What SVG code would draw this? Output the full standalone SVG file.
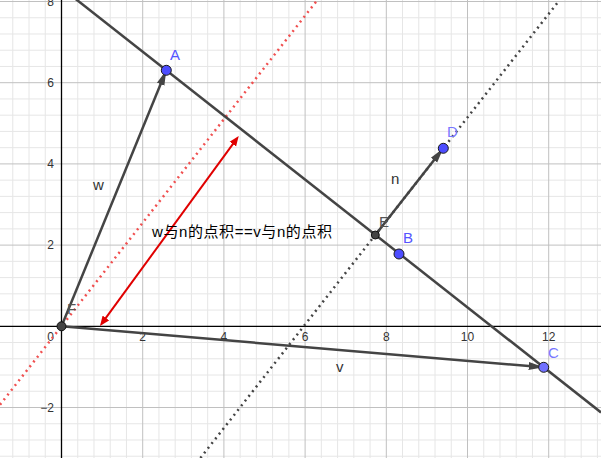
<svg xmlns="http://www.w3.org/2000/svg" width="601" height="458" viewBox="0 0 601 458">
<defs>
<style>
.minor{stroke:#e6e6e6;stroke-width:1;fill:none}
.major{stroke:#c0c0c0;stroke-width:1;fill:none}
.axis{stroke:#000;stroke-width:1.3;fill:none}
.tick{font-family:"Liberation Sans","DejaVu Sans",sans-serif;font-size:12px;fill:#333}
.ytick{text-anchor:end}
.xtick{text-anchor:middle}
.line{stroke:#444;stroke-width:2.5;fill:none}
.vec{stroke:#444;stroke-width:2.5;fill:none;marker-end:url(#ah)}
.dotg{stroke:#444;stroke-width:2.5;fill:none;stroke-dasharray:2 4}
.dotr{stroke:#f05050;stroke-width:2.5;fill:none;stroke-dasharray:2 4}
.red{stroke:#e00000;stroke-width:2;fill:none;marker-start:url(#rh);marker-end:url(#rh)}
.pt{fill:#4d4dff;stroke:#1a1a1a;stroke-width:1}
.ptd{fill:#444;stroke:#111;stroke-width:1}
.plab{font-family:"Liberation Sans","DejaVu Sans",sans-serif;font-size:15px;fill:#5555ff}
.dlab{font-family:"Liberation Sans","DejaVu Sans",sans-serif;font-size:15px;fill:#555}
.vlab{font-family:"Liberation Sans","DejaVu Sans",sans-serif;font-size:15px;fill:#333}
.note{font-family:"Liberation Sans","Noto Sans CJK SC",sans-serif;font-size:15px;fill:#000}
</style>
<marker id="ah" viewBox="0 0 15 10" markerWidth="15" markerHeight="10" refX="15" refY="5" orient="auto" markerUnits="userSpaceOnUse">
<path d="M0,1 L15,5 L0,9 z" fill="#444"/>
</marker>
<marker id="rh" viewBox="0 0 10 9" markerWidth="10" markerHeight="9" refX="4" refY="4.5" orient="auto-start-reverse" markerUnits="userSpaceOnUse">
<path d="M0,0.5 L10,4.5 L0,8.5 z" fill="#e00000"/>
</marker>
</defs>
<rect width="601" height="458" fill="#fff"/>
<g id="grid">
<path class="minor" d="M12.78,0V458M29.02,0V458M45.26,0V458M77.74,0V458M93.98,0V458M110.22,0V458M126.46,0V458M158.94,0V458M175.18,0V458M191.42,0V458M207.66,0V458M240.14,0V458M256.38,0V458M272.62,0V458M288.86,0V458M321.34,0V458M337.58,0V458M353.82,0V458M370.06,0V458M402.54,0V458M418.78,0V458M435.02,0V458M451.26,0V458M483.74,0V458M499.98,0V458M516.22,0V458M532.46,0V458M564.94,0V458M581.18,0V458M597.42,0V458M0,17.74H601M0,33.98H601M0,50.22H601M0,66.46H601M0,98.94H601M0,115.18H601M0,131.42H601M0,147.66H601M0,180.14H601M0,196.38H601M0,212.62H601M0,228.86H601M0,261.34H601M0,277.58H601M0,293.82H601M0,310.06H601M0,342.54H601M0,358.78H601M0,375.02H601M0,391.26H601M0,423.74H601M0,439.98H601M0,456.22H601"/>
<path class="major" d="M142.7,0V458M223.9,0V458M305.1,0V458M386.3,0V458M467.5,0V458M548.7,0V458M0,1.5H601M0,82.7H601M0,163.9H601M0,245.1H601M0,407.5H601"/>
<path class="axis" d="M61.5,0V458M0,326.3H601"/>
</g>
<g id="ticks">
<text class="tick ytick" x="54" y="5.5">8</text>
<text class="tick ytick" x="54" y="86.7">6</text>
<text class="tick ytick" x="54" y="167.9">4</text>
<text class="tick ytick" x="54" y="249.1">2</text>
<text class="tick ytick" x="54" y="411.5">−2</text>
<text class="tick xtick" x="50.5" y="341">0</text>
<text class="tick xtick" x="142.7" y="341">2</text>
<text class="tick xtick" x="223.9" y="341">4</text>
<text class="tick xtick" x="305.1" y="341">6</text>
<text class="tick xtick" x="386.3" y="341">8</text>
<text class="tick xtick" x="467.5" y="341">10</text>
<text class="tick xtick" x="548.7" y="341">12</text>
</g>
<g id="connectors">
<line class="dotr" x1="0" y1="404.7" x2="317.4" y2="0"/>
<line class="dotg" x1="200.4" y1="458" x2="559.6" y2="0"/>
<line class="line" x1="70.6" y1="-5" x2="601" y2="412.4"/>
<line id="vec-w" class="vec" x1="61.5" y1="326.3" x2="166.3" y2="70.3"/>
<line id="vec-v" class="vec" x1="61.5" y1="326.3" x2="543.7" y2="367.3"/>
<line id="vec-n" class="vec" x1="375.3" y1="235" x2="443.3" y2="148.3"/>
<line id="red-arrow" class="red" x1="103.5" y1="321.2" x2="235.2" y2="140.8"/>
<text class="vlab" x="93" y="190">w</text>
<text class="vlab" x="391" y="184">n</text>
<text class="vlab" x="336" y="372">v</text>
</g>
<g id="note">
<text class="note" x="152" y="237" textLength="180" lengthAdjust="spacing">w与n的点积==v与n的点积</text>
</g>
<g id="point-F">
<text class="dlab" x="67" y="314">F</text>
<circle class="ptd" cx="61.5" cy="326.3" r="4.5"/>
</g>
<g id="point-E">
<text class="dlab" x="379" y="227">E</text>
<circle class="ptd" cx="375.3" cy="235" r="4"/>
</g>
<g id="point-A">
<circle class="pt" cx="166.3" cy="70.3" r="5"/>
<text class="plab" x="170" y="60">A</text>
</g>
<g id="point-B">
<circle class="pt" cx="399" cy="254" r="5"/>
<text class="plab" x="403" y="243">B</text>
</g>
<g id="point-C">
<circle class="pt" cx="543.7" cy="367.3" r="5" style="fill:#7070ff"/>
<text class="plab" x="548" y="358" style="fill:#7777ff">C</text>
</g>
<g id="point-D">
<circle class="pt" cx="443.3" cy="148.3" r="5"/>
<text class="plab" x="447" y="137" style="fill:#7777ff">D</text>
</g>
</svg>
